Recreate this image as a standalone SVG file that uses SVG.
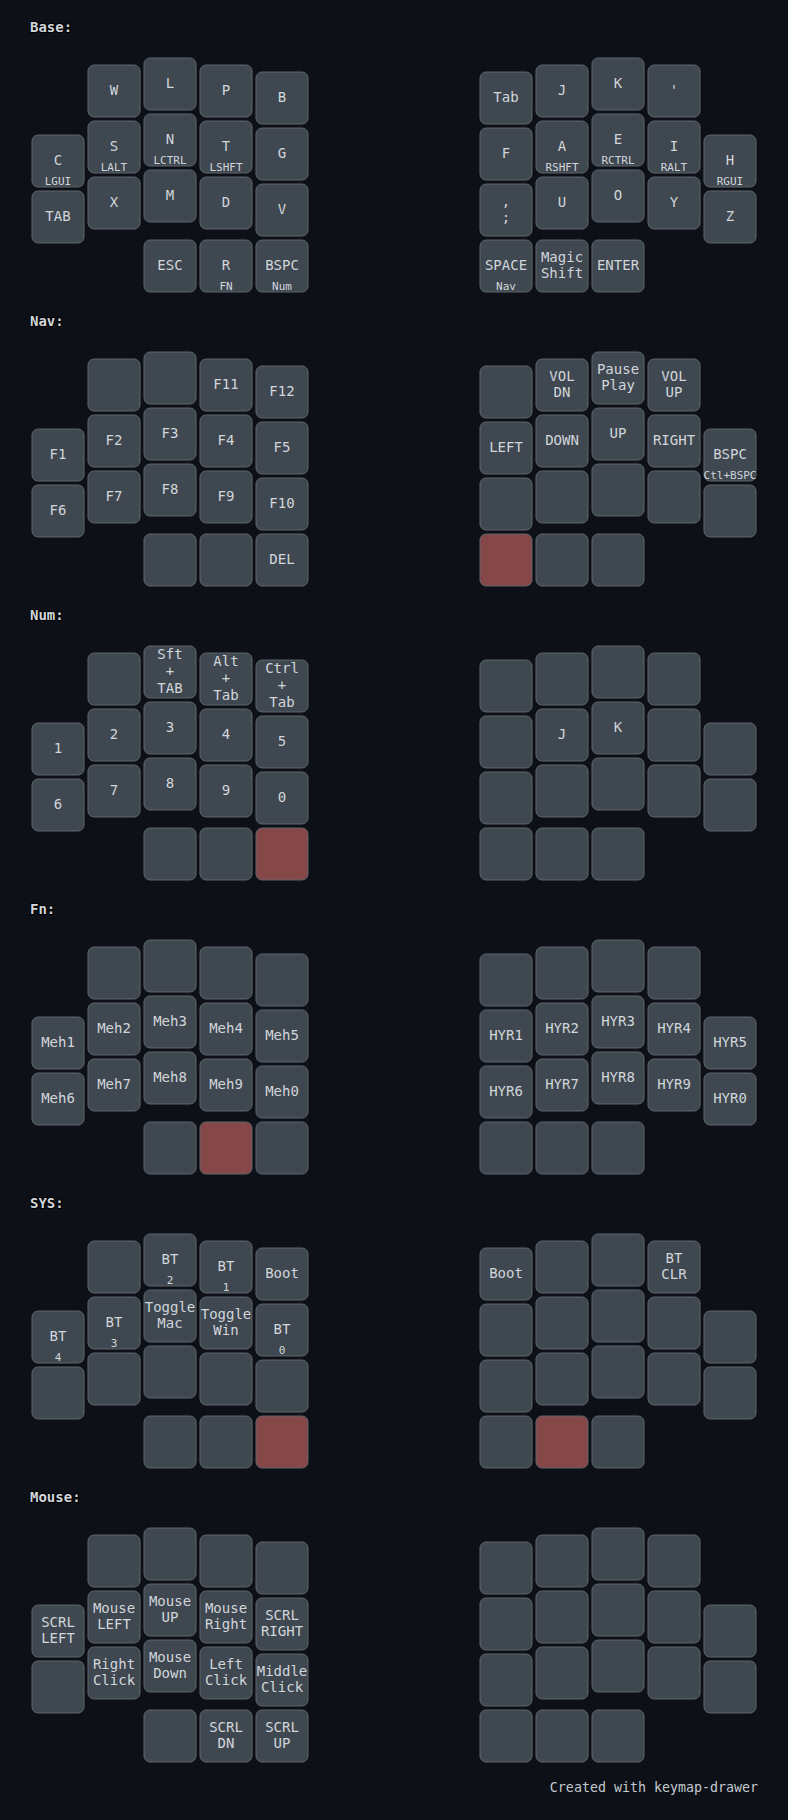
<svg xmlns="http://www.w3.org/2000/svg" xmlns:xlink="http://www.w3.org/1999/xlink" width="788" height="1820" viewBox="0 0 788 1820">
<style>
svg { font-family: "DejaVu Sans Mono", "Liberation Mono", monospace; font-size: 14px; }
text { fill: #d1d6db; text-anchor: middle; dominant-baseline: middle; }
.key { fill: #3f4750; stroke: #60666c; stroke-width: 1; }
.key.held { fill: #854747; }
text.label { font-weight: bold; text-anchor: start; stroke: #000000; stroke-width: 2; paint-order: stroke; }
text.hold { font-size: 11px; dominant-baseline: auto; }
text.footer { text-anchor: end; dominant-baseline: auto; fill: #c3c9cf; font-size: 13.3px; }
</style>
<defs>
<rect id="k" x="-26" y="-26" width="52" height="52" rx="6" ry="6"/>
</defs>
<rect x="0" y="0" width="788" height="1820" fill="#0d1117"/>

<g id="connectors"></g>

<!-- Base -->
<g id="layer-base" transform="translate(0,0)">
<text x="30" y="28" class="label">Base:</text>
<g id="base-l0a" transform="translate(58,161)"><use href="#k" class="key"/><text>C</text><text y="24" class="hold">LGUI</text></g>
<g id="base-l0b" transform="translate(58,217)"><use href="#k" class="key"/><text>TAB</text></g>
<g id="base-l1a" transform="translate(114,91)"><use href="#k" class="key"/><text>W</text></g>
<g id="base-l1b" transform="translate(114,147)"><use href="#k" class="key"/><text>S</text><text y="24" class="hold">LALT</text></g>
<g id="base-l1c" transform="translate(114,203)"><use href="#k" class="key"/><text>X</text></g>
<g id="base-l2a" transform="translate(170,84)"><use href="#k" class="key"/><text>L</text></g>
<g id="base-l2b" transform="translate(170,140)"><use href="#k" class="key"/><text>N</text><text y="24" class="hold">LCTRL</text></g>
<g id="base-l2c" transform="translate(170,196)"><use href="#k" class="key"/><text>M</text></g>
<g id="base-l2d" transform="translate(170,266)"><use href="#k" class="key"/><text>ESC</text></g>
<g id="base-l3a" transform="translate(226,91)"><use href="#k" class="key"/><text>P</text></g>
<g id="base-l3b" transform="translate(226,147)"><use href="#k" class="key"/><text>T</text><text y="24" class="hold">LSHFT</text></g>
<g id="base-l3c" transform="translate(226,203)"><use href="#k" class="key"/><text>D</text></g>
<g id="base-l3d" transform="translate(226,266)"><use href="#k" class="key"/><text>R</text><text y="24" class="hold">FN</text></g>
<g id="base-l4a" transform="translate(282,98)"><use href="#k" class="key"/><text>B</text></g>
<g id="base-l4b" transform="translate(282,154)"><use href="#k" class="key"/><text>G</text></g>
<g id="base-l4c" transform="translate(282,210)"><use href="#k" class="key"/><text>V</text></g>
<g id="base-l4d" transform="translate(282,266)"><use href="#k" class="key"/><text>BSPC</text><text y="24" class="hold">Num</text></g>
<g id="base-r0a" transform="translate(506,98)"><use href="#k" class="key"/><text>Tab</text></g>
<g id="base-r0b" transform="translate(506,154)"><use href="#k" class="key"/><text>F</text></g>
<g id="base-r0c" transform="translate(506,210)"><use href="#k" class="key"/><text><tspan x="0" dy="-0.6em">,</tspan><tspan x="0" dy="1.2em">;</tspan></text></g>
<g id="base-r0d" transform="translate(506,266)"><use href="#k" class="key"/><text>SPACE</text><text y="24" class="hold">Nav</text></g>
<g id="base-r1a" transform="translate(562,91)"><use href="#k" class="key"/><text>J</text></g>
<g id="base-r1b" transform="translate(562,147)"><use href="#k" class="key"/><text>A</text><text y="24" class="hold">RSHFT</text></g>
<g id="base-r1c" transform="translate(562,203)"><use href="#k" class="key"/><text>U</text></g>
<g id="base-r1d" transform="translate(562,266)"><use href="#k" class="key"/><text><tspan x="0" dy="-0.6em">Magic</tspan><tspan x="0" dy="1.2em">Shift</tspan></text></g>
<g id="base-r2a" transform="translate(618,84)"><use href="#k" class="key"/><text>K</text></g>
<g id="base-r2b" transform="translate(618,140)"><use href="#k" class="key"/><text>E</text><text y="24" class="hold">RCTRL</text></g>
<g id="base-r2c" transform="translate(618,196)"><use href="#k" class="key"/><text>O</text></g>
<g id="base-r2d" transform="translate(618,266)"><use href="#k" class="key"/><text>ENTER</text></g>
<g id="base-r3a" transform="translate(674,91)"><use href="#k" class="key"/><text>'</text></g>
<g id="base-r3b" transform="translate(674,147)"><use href="#k" class="key"/><text>I</text><text y="24" class="hold">RALT</text></g>
<g id="base-r3c" transform="translate(674,203)"><use href="#k" class="key"/><text>Y</text></g>
<g id="base-r4a" transform="translate(730,161)"><use href="#k" class="key"/><text>H</text><text y="24" class="hold">RGUI</text></g>
<g id="base-r4b" transform="translate(730,217)"><use href="#k" class="key"/><text>Z</text></g>
</g>

<!-- Nav -->
<g id="layer-nav" transform="translate(0,294)">
<text x="30" y="28" class="label">Nav:</text>
<g id="nav-l0a" transform="translate(58,161)"><use href="#k" class="key"/><text>F1</text></g>
<g id="nav-l0b" transform="translate(58,217)"><use href="#k" class="key"/><text>F6</text></g>
<g id="nav-l1a" transform="translate(114,91)"><use href="#k" class="key"/></g>
<g id="nav-l1b" transform="translate(114,147)"><use href="#k" class="key"/><text>F2</text></g>
<g id="nav-l1c" transform="translate(114,203)"><use href="#k" class="key"/><text>F7</text></g>
<g id="nav-l2a" transform="translate(170,84)"><use href="#k" class="key"/></g>
<g id="nav-l2b" transform="translate(170,140)"><use href="#k" class="key"/><text>F3</text></g>
<g id="nav-l2c" transform="translate(170,196)"><use href="#k" class="key"/><text>F8</text></g>
<g id="nav-l2d" transform="translate(170,266)"><use href="#k" class="key"/></g>
<g id="nav-l3a" transform="translate(226,91)"><use href="#k" class="key"/><text>F11</text></g>
<g id="nav-l3b" transform="translate(226,147)"><use href="#k" class="key"/><text>F4</text></g>
<g id="nav-l3c" transform="translate(226,203)"><use href="#k" class="key"/><text>F9</text></g>
<g id="nav-l3d" transform="translate(226,266)"><use href="#k" class="key"/></g>
<g id="nav-l4a" transform="translate(282,98)"><use href="#k" class="key"/><text>F12</text></g>
<g id="nav-l4b" transform="translate(282,154)"><use href="#k" class="key"/><text>F5</text></g>
<g id="nav-l4c" transform="translate(282,210)"><use href="#k" class="key"/><text>F10</text></g>
<g id="nav-l4d" transform="translate(282,266)"><use href="#k" class="key"/><text>DEL</text></g>
<g id="nav-r0a" transform="translate(506,98)"><use href="#k" class="key"/></g>
<g id="nav-r0b" transform="translate(506,154)"><use href="#k" class="key"/><text>LEFT</text></g>
<g id="nav-r0c" transform="translate(506,210)"><use href="#k" class="key"/></g>
<g id="nav-r0d" transform="translate(506,266)"><use href="#k" class="key held"/></g>
<g id="nav-r1a" transform="translate(562,91)"><use href="#k" class="key"/><text><tspan x="0" dy="-0.6em">VOL</tspan><tspan x="0" dy="1.2em">DN</tspan></text></g>
<g id="nav-r1b" transform="translate(562,147)"><use href="#k" class="key"/><text>DOWN</text></g>
<g id="nav-r1c" transform="translate(562,203)"><use href="#k" class="key"/></g>
<g id="nav-r1d" transform="translate(562,266)"><use href="#k" class="key"/></g>
<g id="nav-r2a" transform="translate(618,84)"><use href="#k" class="key"/><text><tspan x="0" dy="-0.6em">Pause</tspan><tspan x="0" dy="1.2em">Play</tspan></text></g>
<g id="nav-r2b" transform="translate(618,140)"><use href="#k" class="key"/><text>UP</text></g>
<g id="nav-r2c" transform="translate(618,196)"><use href="#k" class="key"/></g>
<g id="nav-r2d" transform="translate(618,266)"><use href="#k" class="key"/></g>
<g id="nav-r3a" transform="translate(674,91)"><use href="#k" class="key"/><text><tspan x="0" dy="-0.6em">VOL</tspan><tspan x="0" dy="1.2em">UP</tspan></text></g>
<g id="nav-r3b" transform="translate(674,147)"><use href="#k" class="key"/><text>RIGHT</text></g>
<g id="nav-r3c" transform="translate(674,203)"><use href="#k" class="key"/></g>
<g id="nav-r4a" transform="translate(730,161)"><use href="#k" class="key"/><text>BSPC</text><text y="24" class="hold">Ctl+BSPC</text></g>
<g id="nav-r4b" transform="translate(730,217)"><use href="#k" class="key"/></g>
</g>

<!-- Num -->
<g id="layer-num" transform="translate(0,588)">
<text x="30" y="28" class="label">Num:</text>
<g id="num-l0a" transform="translate(58,161)"><use href="#k" class="key"/><text>1</text></g>
<g id="num-l0b" transform="translate(58,217)"><use href="#k" class="key"/><text>6</text></g>
<g id="num-l1a" transform="translate(114,91)"><use href="#k" class="key"/></g>
<g id="num-l1b" transform="translate(114,147)"><use href="#k" class="key"/><text>2</text></g>
<g id="num-l1c" transform="translate(114,203)"><use href="#k" class="key"/><text>7</text></g>
<g id="num-l2a" transform="translate(170,84)"><use href="#k" class="key"/><text><tspan x="0" dy="-1.2em">Sft</tspan><tspan x="0" dy="1.2em">+</tspan><tspan x="0" dy="1.2em">TAB</tspan></text></g>
<g id="num-l2b" transform="translate(170,140)"><use href="#k" class="key"/><text>3</text></g>
<g id="num-l2c" transform="translate(170,196)"><use href="#k" class="key"/><text>8</text></g>
<g id="num-l2d" transform="translate(170,266)"><use href="#k" class="key"/></g>
<g id="num-l3a" transform="translate(226,91)"><use href="#k" class="key"/><text><tspan x="0" dy="-1.2em">Alt</tspan><tspan x="0" dy="1.2em">+</tspan><tspan x="0" dy="1.2em">Tab</tspan></text></g>
<g id="num-l3b" transform="translate(226,147)"><use href="#k" class="key"/><text>4</text></g>
<g id="num-l3c" transform="translate(226,203)"><use href="#k" class="key"/><text>9</text></g>
<g id="num-l3d" transform="translate(226,266)"><use href="#k" class="key"/></g>
<g id="num-l4a" transform="translate(282,98)"><use href="#k" class="key"/><text><tspan x="0" dy="-1.2em">Ctrl</tspan><tspan x="0" dy="1.2em">+</tspan><tspan x="0" dy="1.2em">Tab</tspan></text></g>
<g id="num-l4b" transform="translate(282,154)"><use href="#k" class="key"/><text>5</text></g>
<g id="num-l4c" transform="translate(282,210)"><use href="#k" class="key"/><text>0</text></g>
<g id="num-l4d" transform="translate(282,266)"><use href="#k" class="key held"/></g>
<g id="num-r0a" transform="translate(506,98)"><use href="#k" class="key"/></g>
<g id="num-r0b" transform="translate(506,154)"><use href="#k" class="key"/></g>
<g id="num-r0c" transform="translate(506,210)"><use href="#k" class="key"/></g>
<g id="num-r0d" transform="translate(506,266)"><use href="#k" class="key"/></g>
<g id="num-r1a" transform="translate(562,91)"><use href="#k" class="key"/></g>
<g id="num-r1b" transform="translate(562,147)"><use href="#k" class="key"/><text>J</text></g>
<g id="num-r1c" transform="translate(562,203)"><use href="#k" class="key"/></g>
<g id="num-r1d" transform="translate(562,266)"><use href="#k" class="key"/></g>
<g id="num-r2a" transform="translate(618,84)"><use href="#k" class="key"/></g>
<g id="num-r2b" transform="translate(618,140)"><use href="#k" class="key"/><text>K</text></g>
<g id="num-r2c" transform="translate(618,196)"><use href="#k" class="key"/></g>
<g id="num-r2d" transform="translate(618,266)"><use href="#k" class="key"/></g>
<g id="num-r3a" transform="translate(674,91)"><use href="#k" class="key"/></g>
<g id="num-r3b" transform="translate(674,147)"><use href="#k" class="key"/></g>
<g id="num-r3c" transform="translate(674,203)"><use href="#k" class="key"/></g>
<g id="num-r4a" transform="translate(730,161)"><use href="#k" class="key"/></g>
<g id="num-r4b" transform="translate(730,217)"><use href="#k" class="key"/></g>
</g>

<!-- Fn -->
<g id="layer-fn" transform="translate(0,882)">
<text x="30" y="28" class="label">Fn:</text>
<g id="fn-l0a" transform="translate(58,161)"><use href="#k" class="key"/><text>Meh1</text></g>
<g id="fn-l0b" transform="translate(58,217)"><use href="#k" class="key"/><text>Meh6</text></g>
<g id="fn-l1a" transform="translate(114,91)"><use href="#k" class="key"/></g>
<g id="fn-l1b" transform="translate(114,147)"><use href="#k" class="key"/><text>Meh2</text></g>
<g id="fn-l1c" transform="translate(114,203)"><use href="#k" class="key"/><text>Meh7</text></g>
<g id="fn-l2a" transform="translate(170,84)"><use href="#k" class="key"/></g>
<g id="fn-l2b" transform="translate(170,140)"><use href="#k" class="key"/><text>Meh3</text></g>
<g id="fn-l2c" transform="translate(170,196)"><use href="#k" class="key"/><text>Meh8</text></g>
<g id="fn-l2d" transform="translate(170,266)"><use href="#k" class="key"/></g>
<g id="fn-l3a" transform="translate(226,91)"><use href="#k" class="key"/></g>
<g id="fn-l3b" transform="translate(226,147)"><use href="#k" class="key"/><text>Meh4</text></g>
<g id="fn-l3c" transform="translate(226,203)"><use href="#k" class="key"/><text>Meh9</text></g>
<g id="fn-l3d" transform="translate(226,266)"><use href="#k" class="key held"/></g>
<g id="fn-l4a" transform="translate(282,98)"><use href="#k" class="key"/></g>
<g id="fn-l4b" transform="translate(282,154)"><use href="#k" class="key"/><text>Meh5</text></g>
<g id="fn-l4c" transform="translate(282,210)"><use href="#k" class="key"/><text>Meh0</text></g>
<g id="fn-l4d" transform="translate(282,266)"><use href="#k" class="key"/></g>
<g id="fn-r0a" transform="translate(506,98)"><use href="#k" class="key"/></g>
<g id="fn-r0b" transform="translate(506,154)"><use href="#k" class="key"/><text>HYR1</text></g>
<g id="fn-r0c" transform="translate(506,210)"><use href="#k" class="key"/><text>HYR6</text></g>
<g id="fn-r0d" transform="translate(506,266)"><use href="#k" class="key"/></g>
<g id="fn-r1a" transform="translate(562,91)"><use href="#k" class="key"/></g>
<g id="fn-r1b" transform="translate(562,147)"><use href="#k" class="key"/><text>HYR2</text></g>
<g id="fn-r1c" transform="translate(562,203)"><use href="#k" class="key"/><text>HYR7</text></g>
<g id="fn-r1d" transform="translate(562,266)"><use href="#k" class="key"/></g>
<g id="fn-r2a" transform="translate(618,84)"><use href="#k" class="key"/></g>
<g id="fn-r2b" transform="translate(618,140)"><use href="#k" class="key"/><text>HYR3</text></g>
<g id="fn-r2c" transform="translate(618,196)"><use href="#k" class="key"/><text>HYR8</text></g>
<g id="fn-r2d" transform="translate(618,266)"><use href="#k" class="key"/></g>
<g id="fn-r3a" transform="translate(674,91)"><use href="#k" class="key"/></g>
<g id="fn-r3b" transform="translate(674,147)"><use href="#k" class="key"/><text>HYR4</text></g>
<g id="fn-r3c" transform="translate(674,203)"><use href="#k" class="key"/><text>HYR9</text></g>
<g id="fn-r4a" transform="translate(730,161)"><use href="#k" class="key"/><text>HYR5</text></g>
<g id="fn-r4b" transform="translate(730,217)"><use href="#k" class="key"/><text>HYR0</text></g>
</g>

<!-- SYS -->
<g id="layer-sys" transform="translate(0,1176)">
<text x="30" y="28" class="label">SYS:</text>
<g id="sys-l0a" transform="translate(58,161)"><use href="#k" class="key"/><text>BT</text><text y="24" class="hold">4</text></g>
<g id="sys-l0b" transform="translate(58,217)"><use href="#k" class="key"/></g>
<g id="sys-l1a" transform="translate(114,91)"><use href="#k" class="key"/></g>
<g id="sys-l1b" transform="translate(114,147)"><use href="#k" class="key"/><text>BT</text><text y="24" class="hold">3</text></g>
<g id="sys-l1c" transform="translate(114,203)"><use href="#k" class="key"/></g>
<g id="sys-l2a" transform="translate(170,84)"><use href="#k" class="key"/><text>BT</text><text y="24" class="hold">2</text></g>
<g id="sys-l2b" transform="translate(170,140)"><use href="#k" class="key"/><text><tspan x="0" dy="-0.6em">Toggle</tspan><tspan x="0" dy="1.2em">Mac</tspan></text></g>
<g id="sys-l2c" transform="translate(170,196)"><use href="#k" class="key"/></g>
<g id="sys-l2d" transform="translate(170,266)"><use href="#k" class="key"/></g>
<g id="sys-l3a" transform="translate(226,91)"><use href="#k" class="key"/><text>BT</text><text y="24" class="hold">1</text></g>
<g id="sys-l3b" transform="translate(226,147)"><use href="#k" class="key"/><text><tspan x="0" dy="-0.6em">Toggle</tspan><tspan x="0" dy="1.2em">Win</tspan></text></g>
<g id="sys-l3c" transform="translate(226,203)"><use href="#k" class="key"/></g>
<g id="sys-l3d" transform="translate(226,266)"><use href="#k" class="key"/></g>
<g id="sys-l4a" transform="translate(282,98)"><use href="#k" class="key"/><text>Boot</text></g>
<g id="sys-l4b" transform="translate(282,154)"><use href="#k" class="key"/><text>BT</text><text y="24" class="hold">0</text></g>
<g id="sys-l4c" transform="translate(282,210)"><use href="#k" class="key"/></g>
<g id="sys-l4d" transform="translate(282,266)"><use href="#k" class="key held"/></g>
<g id="sys-r0a" transform="translate(506,98)"><use href="#k" class="key"/><text>Boot</text></g>
<g id="sys-r0b" transform="translate(506,154)"><use href="#k" class="key"/></g>
<g id="sys-r0c" transform="translate(506,210)"><use href="#k" class="key"/></g>
<g id="sys-r0d" transform="translate(506,266)"><use href="#k" class="key"/></g>
<g id="sys-r1a" transform="translate(562,91)"><use href="#k" class="key"/></g>
<g id="sys-r1b" transform="translate(562,147)"><use href="#k" class="key"/></g>
<g id="sys-r1c" transform="translate(562,203)"><use href="#k" class="key"/></g>
<g id="sys-r1d" transform="translate(562,266)"><use href="#k" class="key held"/></g>
<g id="sys-r2a" transform="translate(618,84)"><use href="#k" class="key"/></g>
<g id="sys-r2b" transform="translate(618,140)"><use href="#k" class="key"/></g>
<g id="sys-r2c" transform="translate(618,196)"><use href="#k" class="key"/></g>
<g id="sys-r2d" transform="translate(618,266)"><use href="#k" class="key"/></g>
<g id="sys-r3a" transform="translate(674,91)"><use href="#k" class="key"/><text><tspan x="0" dy="-0.6em">BT</tspan><tspan x="0" dy="1.2em">CLR</tspan></text></g>
<g id="sys-r3b" transform="translate(674,147)"><use href="#k" class="key"/></g>
<g id="sys-r3c" transform="translate(674,203)"><use href="#k" class="key"/></g>
<g id="sys-r4a" transform="translate(730,161)"><use href="#k" class="key"/></g>
<g id="sys-r4b" transform="translate(730,217)"><use href="#k" class="key"/></g>
</g>

<!-- Mouse -->
<g id="layer-mouse" transform="translate(0,1470)">
<text x="30" y="28" class="label">Mouse:</text>
<g id="mouse-l0a" transform="translate(58,161)"><use href="#k" class="key"/><text><tspan x="0" dy="-0.6em">SCRL</tspan><tspan x="0" dy="1.2em">LEFT</tspan></text></g>
<g id="mouse-l0b" transform="translate(58,217)"><use href="#k" class="key"/></g>
<g id="mouse-l1a" transform="translate(114,91)"><use href="#k" class="key"/></g>
<g id="mouse-l1b" transform="translate(114,147)"><use href="#k" class="key"/><text><tspan x="0" dy="-0.6em">Mouse</tspan><tspan x="0" dy="1.2em">LEFT</tspan></text></g>
<g id="mouse-l1c" transform="translate(114,203)"><use href="#k" class="key"/><text><tspan x="0" dy="-0.6em">Right</tspan><tspan x="0" dy="1.2em">Click</tspan></text></g>
<g id="mouse-l2a" transform="translate(170,84)"><use href="#k" class="key"/></g>
<g id="mouse-l2b" transform="translate(170,140)"><use href="#k" class="key"/><text><tspan x="0" dy="-0.6em">Mouse</tspan><tspan x="0" dy="1.2em">UP</tspan></text></g>
<g id="mouse-l2c" transform="translate(170,196)"><use href="#k" class="key"/><text><tspan x="0" dy="-0.6em">Mouse</tspan><tspan x="0" dy="1.2em">Down</tspan></text></g>
<g id="mouse-l2d" transform="translate(170,266)"><use href="#k" class="key"/></g>
<g id="mouse-l3a" transform="translate(226,91)"><use href="#k" class="key"/></g>
<g id="mouse-l3b" transform="translate(226,147)"><use href="#k" class="key"/><text><tspan x="0" dy="-0.6em">Mouse</tspan><tspan x="0" dy="1.2em">Right</tspan></text></g>
<g id="mouse-l3c" transform="translate(226,203)"><use href="#k" class="key"/><text><tspan x="0" dy="-0.6em">Left</tspan><tspan x="0" dy="1.2em">Click</tspan></text></g>
<g id="mouse-l3d" transform="translate(226,266)"><use href="#k" class="key"/><text><tspan x="0" dy="-0.6em">SCRL</tspan><tspan x="0" dy="1.2em">DN</tspan></text></g>
<g id="mouse-l4a" transform="translate(282,98)"><use href="#k" class="key"/></g>
<g id="mouse-l4b" transform="translate(282,154)"><use href="#k" class="key"/><text><tspan x="0" dy="-0.6em">SCRL</tspan><tspan x="0" dy="1.2em">RIGHT</tspan></text></g>
<g id="mouse-l4c" transform="translate(282,210)"><use href="#k" class="key"/><text><tspan x="0" dy="-0.6em">Middle</tspan><tspan x="0" dy="1.2em">Click</tspan></text></g>
<g id="mouse-l4d" transform="translate(282,266)"><use href="#k" class="key"/><text><tspan x="0" dy="-0.6em">SCRL</tspan><tspan x="0" dy="1.2em">UP</tspan></text></g>
<g id="mouse-r0a" transform="translate(506,98)"><use href="#k" class="key"/></g>
<g id="mouse-r0b" transform="translate(506,154)"><use href="#k" class="key"/></g>
<g id="mouse-r0c" transform="translate(506,210)"><use href="#k" class="key"/></g>
<g id="mouse-r0d" transform="translate(506,266)"><use href="#k" class="key"/></g>
<g id="mouse-r1a" transform="translate(562,91)"><use href="#k" class="key"/></g>
<g id="mouse-r1b" transform="translate(562,147)"><use href="#k" class="key"/></g>
<g id="mouse-r1c" transform="translate(562,203)"><use href="#k" class="key"/></g>
<g id="mouse-r1d" transform="translate(562,266)"><use href="#k" class="key"/></g>
<g id="mouse-r2a" transform="translate(618,84)"><use href="#k" class="key"/></g>
<g id="mouse-r2b" transform="translate(618,140)"><use href="#k" class="key"/></g>
<g id="mouse-r2c" transform="translate(618,196)"><use href="#k" class="key"/></g>
<g id="mouse-r2d" transform="translate(618,266)"><use href="#k" class="key"/></g>
<g id="mouse-r3a" transform="translate(674,91)"><use href="#k" class="key"/></g>
<g id="mouse-r3b" transform="translate(674,147)"><use href="#k" class="key"/></g>
<g id="mouse-r3c" transform="translate(674,203)"><use href="#k" class="key"/></g>
<g id="mouse-r4a" transform="translate(730,161)"><use href="#k" class="key"/></g>
<g id="mouse-r4b" transform="translate(730,217)"><use href="#k" class="key"/></g>
</g>

<text x="758" y="1792" class="footer">Created with keymap-drawer</text>
</svg>
